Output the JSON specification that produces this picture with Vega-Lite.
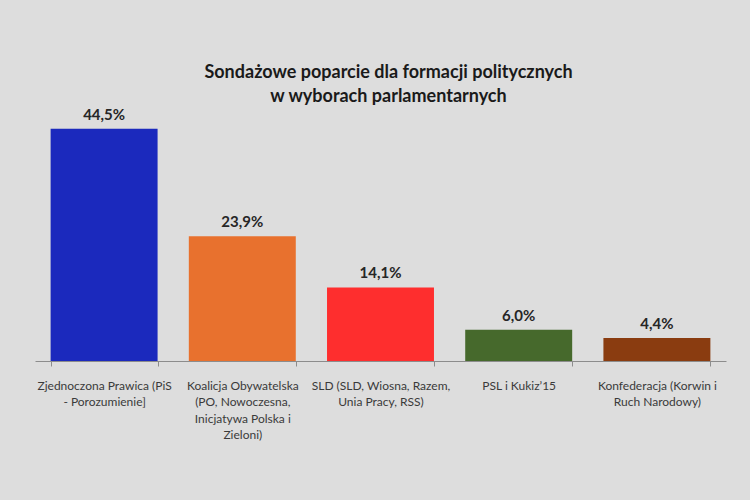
{
  "$schema": "https://vega.github.io/schema/vega-lite/v6.json",
  "width": 691,
  "height": 261,
  "autosize": "none",
  "padding": {"left": 35, "top": 100, "right": 24, "bottom": 139},
  "background": "#dddddd",
  "title": {
    "text": ["Sondażowe poparcie dla formacji politycznych", "w wyborach parlamentarnych"],
    "font": "Lato",
    "fontSize": 18,
    "fontWeight": "bold",
    "color": "#1a1a1a",
    "lineHeight": 24,
    "anchor": "middle",
    "frame": "group",
    "offset": 0,
    "dx": 8,
    "dy": 6
  },
  "data": {
    "values": [
      {"party": "Zjednoczona Prawica (PiS\n- Porozumienie]", "support": 44.5, "color": "#1b29bd"},
      {"party": "Koalicja Obywatelska\n(PO, Nowoczesna,\nInicjatywa Polska i\nZieloni)", "support": 23.9, "color": "#e8712e"},
      {"party": "SLD (SLD, Wiosna, Razem,\nUnia Pracy, RSS)", "support": 14.1, "color": "#fe2e2e"},
      {"party": "PSL i Kukiz’15", "support": 6.0, "color": "#46692c"},
      {"party": "Konfederacja (Korwin i\nRuch Narodowy)", "support": 4.4, "color": "#8a3c10"}
    ]
  },
  "transform": [
    {"calculate": "replace(format(datum.support, '.1f'), '.', ',') + '%'", "as": "label"}
  ],
  "encoding": {
    "x": {
      "field": "party",
      "type": "nominal",
      "sort": null,
      "title": null,
      "scale": {"paddingInner": 0.226, "paddingOuter": 0.113},
      "axis": {
        "labelAngle": 0,
        "labelExpr": "split(datum.label, '\\n')",
        "labelFont": "Lato",
        "labelFontSize": 12,
        "labelColor": "#3a3a3a",
        "labelLineHeight": 16.5,
        "labelBaseline": "top",
        "labelPadding": 14,
        "labelLimit": 200,
        "tickBand": "extent",
        "tickColor": "#8c8c8c",
        "tickSize": 5,
        "domainColor": "#8c8c8c",
        "domainWidth": 1
      }
    },
    "y": {
      "field": "support",
      "type": "quantitative",
      "scale": {"domain": [0, 50]},
      "axis": null
    }
  },
  "layer": [
    {
      "mark": {"type": "bar"},
      "encoding": {
        "color": {"field": "color", "type": "nominal", "scale": null}
      }
    },
    {
      "mark": {
        "type": "text",
        "baseline": "bottom",
        "dy": -6,
        "font": "Lato",
        "fontSize": 15,
        "fontWeight": "bold",
        "color": "#262626"
      },
      "encoding": {
        "text": {"field": "label", "type": "nominal"}
      }
    }
  ],
  "config": {
    "view": {"stroke": null}
  }
}
